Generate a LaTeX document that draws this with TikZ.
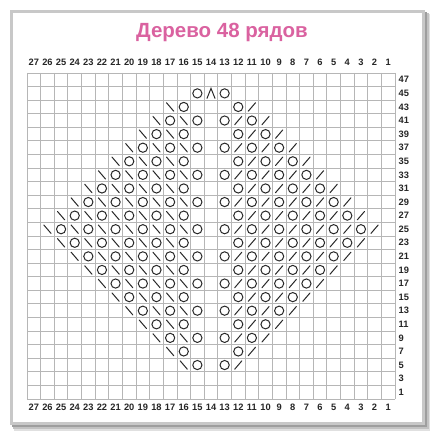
\documentclass[tikz,border=0pt]{standalone}
\usepackage{fontspec}
\setmainfont{Liberation Sans}
\definecolor{titlepink}{RGB}{218,98,160}
\definecolor{gridgray}{RGB}{182,182,182}
\definecolor{framegray}{RGB}{200,200,200}
\definecolor{symcol}{RGB}{40,40,40}
\tikzset{
  gridline/.style={draw=gridgray, line width=0.85pt},
  sym/.style={draw=symcol, line width=1.0pt, line cap=round},
  numlabel/.style={font=\bfseries\fontsize{9.3}{11}\selectfont, text=black!85, inner sep=0pt},
  titlelabel/.style={font=\bfseries\fontsize{20.5}{24}\selectfont, text=titlepink, inner sep=0pt}
}
\begin{document}
\begin{tikzpicture}[x=1pt,y=-1pt]
\useasboundingbox (0,0) rectangle (436,438);
% shadow and frame
\fill[black!12] (14,14) rectangle (430,431);
\fill[black!24] (13,13) rectangle (428.5,429);
\fill[black!38] (12,12) rectangle (426.5,426.5);
\draw[framegray, line width=2.6pt, fill=white] (11.3,11.3) rectangle (423.7,423.7);
% title
\node[titlelabel] (title) at (222,32.5) {Дерево 48 рядов};
% grid
\foreach \i in {0,...,27}
  \draw[gridline] ({27+\i*368/27},73) -- ({27+\i*368/27},399);
\foreach \j in {0,...,24}
  \draw[gridline] (27,{73+\j*326/24}) -- (395,{73+\j*326/24});
% column numbers
\foreach \c in {1,...,27}{
  \pgfmathsetmacro\xc{395-(\c-0.5)*13.6296}
  \node[numlabel] (ctop\c) at (\xc,62) {\c};
  \node[numlabel] (cbot\c) at (\xc,407.5) {\c};
}
% row numbers
\foreach \i in {1,...,24}{
  \pgfmathtruncatemacro\rr{2*\i-1}
  \pgfmathsetmacro\yy{399-(\i-0.5)*13.5833}
  \node[numlabel, anchor=west] (row\rr) at (398.5,\yy) {\rr};
}
% pattern
\foreach \r/\s/\e in {43/16/17,41/15/18,39/16/19,37/15/20,35/16/21,33/15/22,31/16/23,29/15/24,27/16/25,25/15/26,23/16/25,21/15/24,19/16/23,17/15/22,15/16/21,13/15/20,11/16/19,9/15/18,7/16/17,5/15/16}{
  \pgfmathsetmacro\yy{399-((\r+1)/2-0.5)*13.5833}
  \foreach \c in {\s,...,\e}{
    \pgfmathsetmacro\xl{395-(\c-0.5)*13.6296}
    \pgfmathsetmacro\xr{395-(28-\c-0.5)*13.6296}
    \pgfmathtruncatemacro\odd{mod(\c-\s,2)}
    \ifnum\odd=0
      \draw[sym] (\xl,\yy) circle[radius=4.6];
      \draw[sym] (\xr,\yy) circle[radius=4.6];
    \else
      \draw[sym] (\xl-3.6,\yy-4.2) -- (\xl+3.6,\yy+4.2);
      \draw[sym] (\xr-3.6,\yy+4.2) -- (\xr+3.6,\yy-4.2);
    \fi
  }
}
% row 45
\pgfmathsetmacro\yt{399-22.5*13.5833}
\draw[sym] ({395-14.5*13.6296},\yt) circle[radius=4.6];
\draw[sym] ({395-12.5*13.6296},\yt) circle[radius=4.6];
\draw[sym, line join=miter] ({395-13.5*13.6296-4},\yt+5) -- ({395-13.5*13.6296},\yt-5) -- ({395-13.5*13.6296+4},\yt+5);
\end{tikzpicture}
\end{document}
